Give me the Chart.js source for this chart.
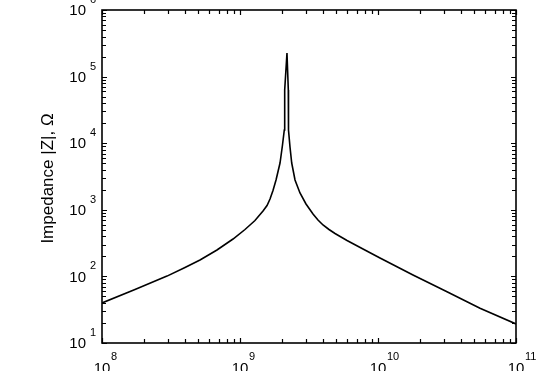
<!DOCTYPE html>
<html>
<head>
<meta charset="utf-8">
<script src="https://cdn.jsdelivr.net/npm/chart.js@4/dist/chart.umd.min.js"></script>
<style>
  html, body { margin: 0; padding: 0; background: #ffffff; }
  #wrap { width: 557px; height: 371px; overflow: hidden; }
</style>
</head>
<body>
<div id="wrap"><canvas id="c" width="557" height="371"></canvas></div>
<script>
// Frequency (Hz) and impedance magnitude (Ohm)
const frequencyHz = [1e8, 1.734e8, 2.958e8, 3.995e8, 5.13e8, 6.81e8, 8.9e8, 1.087e9, 1.284e9, 1.468e9, 1.57e9, 1.65e9, 1.734e9, 1.824e9, 1.95e9, 2.032e9, 2.094e9, 2.108e9, 2.19e9, 2.239e9, 2.246e9, 2.303e9, 2.37e9, 2.504e9, 2.721e9, 3.008e9, 3.381e9, 3.674e9, 3.995e9, 4.415e9, 4.88e9, 5.964e9, 7.785e9, 1.034e10, 1.793e10, 3.162e10, 5.485e10, 1e11];
const impedanceOhm = [39.9, 63.6, 101, 136, 176, 249, 364, 506, 691, 959, 1160, 1453, 1949, 2800, 5040, 9400, 15800, 63000, 226000, 63000, 15800, 8770, 5040, 2800, 1788, 1222, 865, 703, 591, 506, 441, 346, 258, 189, 105, 58.9, 33.2, 19.3];

// Axis decade exponents (tick labels are 10^n)
const xTickExponents = [8, 9, 10, 11];
const yTickExponents = [1, 2, 3, 4, 5, 6];
const yAxisTitle = 'Impedance |Z|, \u03A9';

const FONT = '"Liberation Sans", Arial, sans-serif';

const framePlugin = {
  id: 'frame',
  afterDraw(chart) {
    const ctx = chart.ctx;
    const xs = chart.scales.x, ys = chart.scales.y;
    const a = chart.chartArea;
    ctx.save();
    ctx.strokeStyle = '#000';
    ctx.fillStyle = '#000';
    ctx.lineWidth = 1.6;
    ctx.strokeRect(a.left, a.top, a.right - a.left, a.bottom - a.top);
    ctx.lineWidth = 1.2;
    const xMin = xTickExponents[0], xMax = xTickExponents[xTickExponents.length - 1];
    for (let e = xMin; e <= xMax; e++) {
      for (let m = 1; m <= 9; m++) {
        const v = m * Math.pow(10, e);
        if (v > Math.pow(10, xMax)) break;
        const px = Math.round(xs.getPixelForValue(v)) + 0.5;
        const L = m === 1 ? 5 : 4;
        ctx.beginPath();
        ctx.moveTo(px, a.bottom); ctx.lineTo(px, a.bottom - L);
        ctx.moveTo(px, a.top); ctx.lineTo(px, a.top + L);
        ctx.stroke();
      }
    }
    const yMin = yTickExponents[0], yMax = yTickExponents[yTickExponents.length - 1];
    for (let e = yMin; e <= yMax; e++) {
      for (let m = 1; m <= 9; m++) {
        const v = m * Math.pow(10, e);
        if (v > Math.pow(10, yMax)) break;
        const py = Math.round(ys.getPixelForValue(v)) + 0.5;
        const L = m === 1 ? 5 : 4;
        ctx.beginPath();
        ctx.moveTo(a.left, py); ctx.lineTo(a.left + L, py);
        ctx.moveTo(a.right, py); ctx.lineTo(a.right - L, py);
        ctx.stroke();
      }
    }
    ctx.textBaseline = 'middle';
    yTickExponents.forEach(n => {
      const py = ys.getPixelForValue(Math.pow(10, n));
      ctx.font = '15px ' + FONT;
      ctx.textAlign = 'right';
      ctx.fillText('10', a.left - 16, py + 1);
      ctx.font = '11px ' + FONT;
      ctx.textAlign = 'left';
      ctx.fillText(String(n), a.left - 12, py - 10);
    });
    xTickExponents.forEach(n => {
      const px = xs.getPixelForValue(Math.pow(10, n));
      ctx.font = '15px ' + FONT;
      ctx.textAlign = 'center';
      ctx.fillText('10', px, a.bottom + 26);
      ctx.font = '11px ' + FONT;
      ctx.textAlign = 'left';
      ctx.fillText(String(n), px + 9, a.bottom + 14);
    });
    ctx.translate(48, (a.top + a.bottom) / 2 + 2);
    ctx.rotate(-Math.PI / 2);
    ctx.font = '17px ' + FONT;
    ctx.textAlign = 'center';
    ctx.fillText(yAxisTitle, 0, 0);
    ctx.restore();
  }
};

new Chart(document.getElementById('c'), {
  type: 'line',
  data: {
    datasets: [{
      data: frequencyHz.map((f, i) => ({ x: f, y: impedanceOhm[i] })),
      borderColor: '#000',
      borderWidth: 1.6,
      pointRadius: 0,
      tension: 0,
      fill: false
    }]
  },
  options: {
    responsive: false,
    animation: false,
    devicePixelRatio: 1,
    layout: { padding: { left: 102, right: 41, top: 10, bottom: 28 } },
    plugins: { legend: { display: false }, tooltip: { enabled: false } },
    scales: {
      x: {
        type: 'logarithmic',
        min: Math.pow(10, xTickExponents[0]),
        max: Math.pow(10, xTickExponents[xTickExponents.length - 1]),
        display: false
      },
      y: {
        type: 'logarithmic',
        min: Math.pow(10, yTickExponents[0]),
        max: Math.pow(10, yTickExponents[yTickExponents.length - 1]),
        display: false
      }
    }
  },
  plugins: [framePlugin]
});
</script>
</body>
</html>
